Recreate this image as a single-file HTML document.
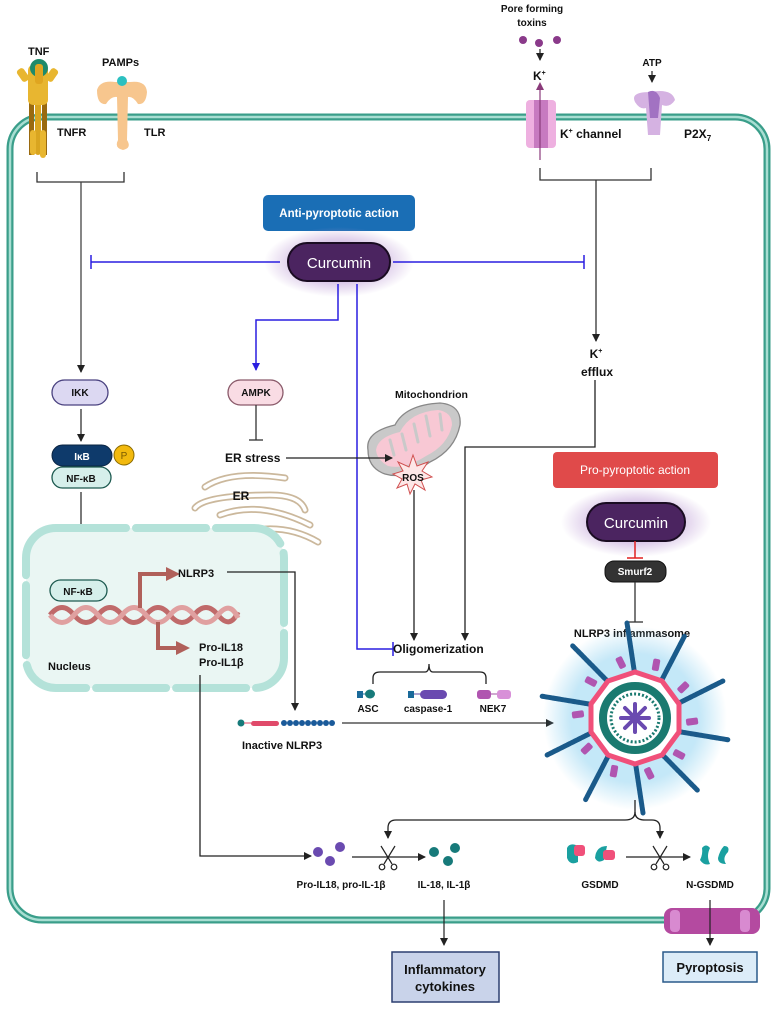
<!DOCTYPE html>
<html><head><meta charset="utf-8"><style>
html,body{margin:0;padding:0;background:#fff}
svg{display:block}
text{font-family:"Liberation Sans",sans-serif;font-weight:bold;font-size:11px;fill:#111}
</style></head><body>
<svg width="777" height="1009" viewBox="0 0 777 1009" xmlns="http://www.w3.org/2000/svg">
<defs>
<marker id="a" markerWidth="8" markerHeight="8" refX="7" refY="4" orient="auto" markerUnits="userSpaceOnUse"><path d="M0,0 L8,4 L0,8 z" fill="#222"/></marker>
<marker id="ab" markerWidth="8" markerHeight="8" refX="7" refY="4" orient="auto" markerUnits="userSpaceOnUse"><path d="M0,0 L8,4 L0,8 z" fill="#2a1ee0"/></marker>
<marker id="ar" markerWidth="14" markerHeight="14" refX="10" refY="7" orient="auto" markerUnits="userSpaceOnUse"><path d="M0,0 L14,7 L0,14 z" fill="#b0605a"/></marker>
<radialGradient id="glow"><stop offset="0.5" stop-color="#b590d0" stop-opacity="0.6"/><stop offset="1" stop-color="#b590d0" stop-opacity="0"/></radialGradient>
<radialGradient id="bglow"><stop offset="0.7" stop-color="#8ad0f0" stop-opacity="0.5"/><stop offset="1" stop-color="#8ad0f0" stop-opacity="0"/></radialGradient>
</defs>

<rect x="10" y="117" width="757" height="803" rx="32" fill="none" stroke="#3a9e8a" stroke-width="7"/>
<rect x="10" y="117" width="757" height="803" rx="32" fill="none" stroke="#a8ded2" stroke-width="2.5"/>

<g>
<rect x="35" y="60" width="6" height="95" rx="3" fill="#d9a520"/>
<rect x="29" y="95" width="5" height="60" fill="#9a6a10"/><rect x="42" y="95" width="5" height="60" fill="#9a6a10"/>
<rect x="28" y="65" width="20" height="40" rx="5" fill="#e8b630"/>
<rect x="30" y="130" width="6" height="25" rx="3" fill="#e8b630"/><rect x="40" y="130" width="6" height="28" rx="3" fill="#e8b630"/>
<rect x="19" y="68" width="8" height="14" rx="3" fill="#e8b630" transform="rotate(-35 23 75)"/>
<rect x="48" y="68" width="8" height="14" rx="3" fill="#e8b630" transform="rotate(35 52 75)"/>
<circle cx="39" cy="68" r="9" fill="#1f8a6a"/><rect x="35" y="64" width="8" height="20" rx="3" fill="#e0a520"/>
</g>
<text x="28" y="55">TNF</text>
<text x="57" y="136">TNFR</text>
<g fill="#f7c68e">
<path d="M97,90 Q100,80 115,82 L130,82 Q146,80 147,92 Q146,105 138,104 Q133,96 128,97 L127,140 Q132,148 123,150 Q114,148 118,140 L117,97 Q111,96 106,104 Q97,105 97,90z"/>
</g>
<circle cx="122" cy="81" r="5" fill="#2cc0c0"/>
<text x="102" y="66">PAMPs</text>
<text x="144" y="136">TLR</text>

<path d="M37,172 V182 H124 V172" fill="none" stroke="#333" stroke-width="1.3"/>
<line x1="81" y1="182" x2="81" y2="372" stroke="#444" stroke-width="1.3" marker-end="url(#a)"/>

<rect x="263" y="195" width="152" height="36" rx="5" fill="#1a6eb5"/>
<text x="339" y="217" text-anchor="middle" style="fill:#fff;font-size:11.5px">Anti-pyroptotic action</text>
<ellipse cx="339" cy="262" rx="75" ry="35" fill="url(#glow)"/>
<rect x="288" y="243" width="102" height="38" rx="19" fill="#4b2460" stroke="#1a0c22" stroke-width="2"/>
<text x="339" y="268" text-anchor="middle" style="fill:#fff;font-weight:normal;font-size:15px">Curcumin</text>

<g stroke="#2a1ee0" stroke-width="1.5" fill="none">
<line x1="280" y1="262" x2="91" y2="262"/><line x1="91" y1="255" x2="91" y2="269"/>
<line x1="393" y1="262" x2="584" y2="262"/><line x1="584" y1="255" x2="584" y2="269"/>
<path d="M338,284 V320 H256 V370" marker-end="url(#ab)"/>
<path d="M357,284 V649 H393"/><line x1="393" y1="642" x2="393" y2="656"/>
</g>

<rect x="52" y="380" width="56" height="25" rx="12.5" fill="#dcd8f2" stroke="#4a4280" stroke-width="1.3"/>
<text x="80" y="396" text-anchor="middle" style="font-size:10px">IKK</text>
<line x1="81" y1="409" x2="81" y2="441" stroke="#333" stroke-width="1.3" marker-end="url(#a)"/>
<rect x="52" y="445" width="60" height="21" rx="10.5" fill="#0e3a6b" stroke="#0a2442"/>
<text x="82" y="460" text-anchor="middle" style="fill:#fff;font-size:10px">IκB</text>
<circle cx="124" cy="455" r="10" fill="#f2b90e" stroke="#8a6a00"/>
<text x="124" y="459" text-anchor="middle" style="fill:#7a5a00;font-size:10px;font-weight:normal">P</text>
<rect x="52" y="467" width="59" height="21" rx="10.5" fill="#d6efeb" stroke="#1d5a50" stroke-width="1.3"/>
<text x="81" y="482" text-anchor="middle" style="font-size:10px">NF-κB</text>
<line x1="81" y1="492" x2="81" y2="572" stroke="#333" stroke-width="1.3" marker-end="url(#a)"/>

<rect x="228" y="380" width="55" height="25" rx="12.5" fill="#f9dce4" stroke="#8a5a6a" stroke-width="1.3"/>
<text x="256" y="396" text-anchor="middle" style="font-size:10px">AMPK</text>
<line x1="256" y1="405" x2="256" y2="440" stroke="#333" stroke-width="1.3"/><line x1="249" y1="440" x2="263" y2="440" stroke="#333" stroke-width="1.3"/>
<text x="225" y="462" style="font-size:12px">ER stress</text>
<g fill="none" stroke="#cbb89c" stroke-width="7" stroke-linecap="round">
<path d="M205,487 Q230,470 285,478"/><path d="M195,508 Q205,495 270,495 Q300,495 305,510"/>
<path d="M220,515 Q260,500 310,525"/><path d="M235,535 Q280,520 318,542"/>
</g>
<g fill="none" stroke="#fff" stroke-width="3.5" stroke-linecap="round">
<path d="M205,487 Q230,470 285,478"/><path d="M195,508 Q205,495 270,495 Q300,495 305,510"/>
<path d="M220,515 Q260,500 310,525"/><path d="M235,535 Q280,520 318,542"/>
</g>
<text x="241" y="500" text-anchor="middle" style="font-size:12px">ER</text>

<text x="395" y="398" style="font-size:10.5px">Mitochondrion</text>
<path d="M368,450 Q365,432 395,425 Q405,405 440,403 Q462,405 460,425 Q455,450 430,462 Q405,480 385,474 Q368,468 368,450z" fill="#c9c9c9" stroke="#888" stroke-width="1.3"/>
<path d="M376,450 Q378,437 400,432 Q410,412 438,410 Q452,412 452,425 Q448,445 426,456 Q404,470 388,466 Q377,460 376,450z" fill="#f8c8d4"/>
<g stroke="#c9c9c9" stroke-width="3" stroke-linecap="round"><line x1="390" y1="440" x2="394" y2="455"/><line x1="402" y1="434" x2="406" y2="450"/><line x1="414" y1="424" x2="418" y2="442"/><line x1="426" y1="416" x2="430" y2="436"/><line x1="440" y1="414" x2="442" y2="430"/></g>
<line x1="286" y1="458" x2="392" y2="458" stroke="#222" stroke-width="1.3" marker-end="url(#a)"/>
<polygon points="413,455 417,466 428,462 422,471 432,477 421,480 425,490 415,484 410,494 407,484 397,488 402,479 393,474 403,471 398,462 409,467" fill="#fde7e7" stroke="#d05050" stroke-width="1"/>
<text x="413" y="481" text-anchor="middle" style="font-size:10px">ROS</text>
<line x1="414" y1="490" x2="414" y2="640" stroke="#222" stroke-width="1.3" marker-end="url(#a)"/>

<text x="532" y="12" text-anchor="middle" style="font-size:10px">Pore forming</text>
<text x="532" y="26" text-anchor="middle" style="font-size:10px">toxins</text>
<circle cx="523" cy="40" r="4" fill="#8a3a8a"/><circle cx="539" cy="43" r="4" fill="#8a3a8a"/><circle cx="557" cy="40" r="4" fill="#8a3a8a"/>
<line x1="540" y1="49" x2="540" y2="60" stroke="#222" stroke-width="1.2" marker-end="url(#a)"/>
<text x="533" y="80" style="font-size:12px">K<tspan dy="-5" style="font-size:7px">+</tspan></text>
<rect x="526" y="100" width="30" height="48" rx="4" fill="#eeb0e0"/>
<rect x="534" y="100" width="14" height="48" fill="#c77ac0"/>
<line x1="540" y1="160" x2="540" y2="86" stroke="#8a3a7a" stroke-width="1.2"/><path d="M536,90 L540,82 L544,90z" fill="#8a3a7a"/>
<text x="560" y="138" style="font-size:12px">K<tspan dy="-5" style="font-size:7px">+</tspan><tspan dy="5"> channel</tspan></text>
<text x="652" y="66" text-anchor="middle" style="font-size:10px">ATP</text>
<line x1="652" y1="71" x2="652" y2="82" stroke="#222" stroke-width="1.2" marker-end="url(#a)"/>
<path d="M635,102 Q630,92 650,92 Q672,88 675,100 Q670,108 662,105 L660,135 L648,135 L646,108 Q640,110 635,102z" fill="#d5b2e2"/>
<path d="M648,92 Q656,88 660,98 L658,118 L650,118z" fill="#a272c2"/>
<text x="684" y="138" style="font-size:12px">P2X<tspan dy="3" style="font-size:8px">7</tspan></text>
<path d="M540,168 V180 H651 V168" fill="none" stroke="#333" stroke-width="1.3"/>
<line x1="596" y1="180" x2="596" y2="341" stroke="#333" stroke-width="1.3" marker-end="url(#a)"/>
<text x="596" y="358" text-anchor="middle" style="font-size:12px">K<tspan dy="-5" style="font-size:7px">+</tspan></text>
<text x="597" y="376" text-anchor="middle" style="font-size:12px">efflux</text>
<path d="M595,380 V447 H465 V640" fill="none" stroke="#222" stroke-width="1.3" marker-end="url(#a)"/>

<rect x="553" y="452" width="165" height="36" rx="4" fill="#e04a4a"/>
<text x="635" y="474" text-anchor="middle" style="fill:#fff;font-weight:normal;font-size:12px">Pro-pyroptotic action</text>
<ellipse cx="636" cy="522" rx="75" ry="35" fill="url(#glow)"/>
<rect x="587" y="503" width="98" height="38" rx="19" fill="#4b2460" stroke="#1a0c22" stroke-width="2"/>
<text x="636" y="528" text-anchor="middle" style="fill:#fff;font-weight:normal;font-size:15px">Curcumin</text>
<line x1="635" y1="541" x2="635" y2="558" stroke="#e02020" stroke-width="1.5"/><line x1="627" y1="558" x2="643" y2="558" stroke="#e02020" stroke-width="1.5"/>
<rect x="605" y="561" width="61" height="21" rx="9" fill="#333" stroke="#111"/>
<text x="635" y="575" text-anchor="middle" style="fill:#fff;font-size:10px">Smurf2</text>
<line x1="635" y1="582" x2="635" y2="622" stroke="#333" stroke-width="1.3"/><line x1="627" y1="622" x2="643" y2="622" stroke="#333" stroke-width="1.3"/>
<text x="632" y="637" text-anchor="middle" style="font-size:11px">NLRP3 inflammasome</text>

<rect x="26" y="528" width="258" height="160" rx="30" fill="#eaf6f3"/>
<rect x="26" y="528" width="258" height="160" rx="30" fill="none" stroke="#b4e2d9" stroke-width="8" stroke-dasharray="70 10" stroke-linecap="round"/>
<rect x="50" y="580" width="57" height="21" rx="10.5" fill="#d6efeb" stroke="#1d5a50" stroke-width="1.3"/>
<text x="78" y="595" text-anchor="middle" style="font-size:10px">NF-κB</text>
<path d="M50,615 Q62,600 74,615 T98,615 T122,615 T146,615 T170,615 T194,615 T218,615 T238,612" fill="none" stroke="#c06a6a" stroke-width="5"/>
<path d="M50,615 Q62,630 74,615 T98,615 T122,615 T146,615 T170,615 T194,615 T218,615 T238,618" fill="none" stroke="#e0a0a0" stroke-width="5"/>
<path d="M140,608 V574 H176" fill="none" stroke="#b0605a" stroke-width="4" marker-end="url(#ar)"/>
<path d="M158,622 V648 H186" fill="none" stroke="#b0605a" stroke-width="4" marker-end="url(#ar)"/>
<text x="178" y="577" style="font-size:11px">NLRP3</text>
<text x="199" y="651" style="font-size:11px">Pro-IL18</text>
<text x="199" y="666" style="font-size:11px">Pro-IL1β</text>
<text x="48" y="670" style="font-size:11px">Nucleus</text>
<path d="M227,572 H295 V710" fill="none" stroke="#222" stroke-width="1.3" marker-end="url(#a)"/>
<path d="M200,675 V856 H311" fill="none" stroke="#222" stroke-width="1.3" marker-end="url(#a)"/>

<text x="393" y="653" style="font-size:12px">Oligomerization</text>
<path d="M373,684 V678 Q373,672 380,672 H425 Q429,672 429,664 Q429,672 433,672 H480 Q486,672 486,678 V684" fill="none" stroke="#222" stroke-width="1.3"/>
<rect x="357" y="691" width="6" height="7" fill="#1a6a9a"/><line x1="363" y1="694" x2="366" y2="694" stroke="#1a6a9a"/><ellipse cx="370" cy="694" rx="5" ry="4.5" fill="#177a7a"/>
<text x="368" y="712" text-anchor="middle" style="font-size:10px">ASC</text>
<rect x="408" y="691" width="6" height="7" fill="#1a6a9a"/><line x1="414" y1="694" x2="420" y2="694" stroke="#5a4aa0"/><rect x="420" y="690" width="27" height="9" rx="4.5" fill="#6a4ab0"/>
<text x="428" y="712" text-anchor="middle" style="font-size:10px">caspase-1</text>
<rect x="477" y="690" width="14" height="9" rx="3" fill="#b055b0"/><line x1="491" y1="694" x2="497" y2="694" stroke="#a050a0"/><rect x="497" y="690" width="14" height="9" rx="3" fill="#d890d8"/>
<text x="493" y="712" text-anchor="middle" style="font-size:10px">NEK7</text>

<circle cx="241" cy="723" r="3.5" fill="#177a7a"/><line x1="244" y1="723" x2="251" y2="723" stroke="#e04a6a"/>
<rect x="251" y="721" width="28" height="5" rx="2.5" fill="#e04a6a"/>
<g fill="#1a5a9a"><circle cx="284" cy="723" r="3"/><circle cx="290" cy="723" r="3"/><circle cx="296" cy="723" r="3"/><circle cx="302" cy="723" r="3"/><circle cx="308" cy="723" r="3"/><circle cx="314" cy="723" r="3"/><circle cx="320" cy="723" r="3"/><circle cx="326" cy="723" r="3"/><circle cx="332" cy="723" r="3"/></g>
<text x="242" y="749" style="font-size:11px">Inactive NLRP3</text>
<line x1="342" y1="723" x2="553" y2="723" stroke="#333" stroke-width="1.3" marker-end="url(#a)"/>

<g transform="translate(635,718)">
<circle r="92" fill="url(#bglow)"/>
<g stroke="#1a5a8a" stroke-width="5" stroke-dasharray="3 1" stroke-linecap="round">
<line x1="0" y1="-42" x2="-8" y2="-95" transform="rotate(0)"/>
<line x1="0" y1="-42" x2="-8" y2="-95" transform="rotate(36)"/>
<line x1="0" y1="-42" x2="-8" y2="-95" transform="rotate(72)"/>
<line x1="0" y1="-42" x2="-8" y2="-95" transform="rotate(108)"/>
<line x1="0" y1="-42" x2="-8" y2="-95" transform="rotate(144)"/>
<line x1="0" y1="-42" x2="-8" y2="-95" transform="rotate(180)"/>
<line x1="0" y1="-42" x2="-8" y2="-95" transform="rotate(216)"/>
<line x1="0" y1="-42" x2="-8" y2="-95" transform="rotate(252)"/>
<line x1="0" y1="-42" x2="-8" y2="-95" transform="rotate(288)"/>
<line x1="0" y1="-42" x2="-8" y2="-95" transform="rotate(324)"/>
</g>
<g fill="#b055b0">
<rect x="8" y="-62" width="7" height="12" rx="2" transform="rotate(10)"/><rect x="8" y="-62" width="7" height="12" rx="2" transform="rotate(46)"/><rect x="8" y="-62" width="7" height="12" rx="2" transform="rotate(82)"/><rect x="8" y="-62" width="7" height="12" rx="2" transform="rotate(118)"/><rect x="8" y="-62" width="7" height="12" rx="2" transform="rotate(154)"/><rect x="8" y="-62" width="7" height="12" rx="2" transform="rotate(190)"/><rect x="8" y="-62" width="7" height="12" rx="2" transform="rotate(226)"/><rect x="8" y="-62" width="7" height="12" rx="2" transform="rotate(262)"/><rect x="8" y="-62" width="7" height="12" rx="2" transform="rotate(298)"/><rect x="8" y="-62" width="7" height="12" rx="2" transform="rotate(334)"/>
</g>
<polygon points="0,-46 27,-37 44,-14 44,14 27,37 0,46 -27,37 -44,14 -44,-14 -27,-37" fill="#fff" stroke="#f0507a" stroke-width="5"/>
<circle r="32" fill="none" stroke="#1a7a70" stroke-width="8"/>
<circle r="24" fill="none" stroke="#1a7a70" stroke-width="3" stroke-dasharray="2 2"/>
<g stroke="#6a4ab0" stroke-width="4" stroke-linecap="round"><line x1="-14" y1="0" x2="14" y2="0"/><line x1="0" y1="-14" x2="0" y2="14"/><line x1="-10" y1="-10" x2="10" y2="10"/><line x1="-10" y1="10" x2="10" y2="-10"/></g>
</g>

<path d="M635,800 V812 Q635,820 625,820 H396 Q388,820 388,828 V838" fill="none" stroke="#222" stroke-width="1.3" marker-end="url(#a)"/>
<path d="M635,812 Q635,820 645,820 H652 Q660,820 660,828 V838" fill="none" stroke="#222" stroke-width="1.3" marker-end="url(#a)"/>

<circle cx="318" cy="852" r="5" fill="#6a4ab0"/><circle cx="330" cy="861" r="5" fill="#6a4ab0"/><circle cx="340" cy="847" r="5" fill="#6a4ab0"/>
<line x1="352" y1="857" x2="425" y2="857" stroke="#222" stroke-width="1.2" marker-end="url(#a)"/>
<g fill="none" stroke="#222" stroke-width="1.2"><path d="M381,846 L392,864 M395,846 L384,864"/><circle cx="382" cy="867" r="2.8"/><circle cx="394" cy="867" r="2.8"/></g>
<circle cx="434" cy="852" r="5" fill="#177a7a"/><circle cx="448" cy="861" r="5" fill="#177a7a"/><circle cx="455" cy="848" r="5" fill="#177a7a"/>
<text x="341" y="888" text-anchor="middle" style="font-size:10px">Pro-IL18, pro-IL-1β</text>
<text x="444" y="888" text-anchor="middle" style="font-size:10px">IL-18, IL-1β</text>
<line x1="444" y1="900" x2="444" y2="945" stroke="#222" stroke-width="1.2" marker-end="url(#a)"/>
<rect x="392" y="952" width="107" height="50" fill="#c9d3ea" stroke="#2c3e70" stroke-width="1.5"/>
<text x="445" y="974" text-anchor="middle" style="font-size:13px">Inflammatory</text>
<text x="445" y="991" text-anchor="middle" style="font-size:13px">cytokines</text>

<path d="M567,848 Q570,842 578,846 L578,862 Q570,866 567,858z" fill="#1aa0a0"/><rect x="574" y="845" width="11" height="11" rx="3" fill="#f0507a"/>
<path d="M595,858 Q596,846 607,846 L604,860 Q598,864 595,858z" fill="#1aa0a0"/><rect x="603" y="850" width="12" height="10" rx="3" fill="#f0507a"/>
<line x1="626" y1="857" x2="690" y2="857" stroke="#222" stroke-width="1.2" marker-end="url(#a)"/>
<g fill="none" stroke="#222" stroke-width="1.2"><path d="M653,846 L664,864 M667,846 L656,864"/><circle cx="654" cy="867" r="2.8"/><circle cx="666" cy="867" r="2.8"/></g>
<path d="M702,848 Q706,843 710,848 Q706,856 710,864 Q704,866 700,860 Q703,854 702,848z" fill="#1aa0a0"/>
<path d="M724,846 Q730,846 728,852 Q722,858 726,864 Q718,864 718,858 Q720,850 724,846z" fill="#1aa0a0"/>
<text x="600" y="888" text-anchor="middle" style="font-size:10px">GSDMD</text>
<text x="710" y="888" text-anchor="middle" style="font-size:10px">N-GSDMD</text>
<rect x="664" y="908" width="96" height="26" rx="8" fill="#b44aa0"/>
<rect x="670" y="910" width="10" height="22" rx="4" fill="#d88ad0"/><rect x="740" y="910" width="10" height="22" rx="4" fill="#d88ad0"/>
<line x1="710" y1="900" x2="710" y2="945" stroke="#222" stroke-width="1.2" marker-end="url(#a)"/>
<rect x="663" y="952" width="94" height="30" fill="#dcecf8" stroke="#2a5a8a" stroke-width="1.5"/>
<text x="710" y="972" text-anchor="middle" style="font-size:13px">Pyroptosis</text>
</svg>
</body></html>
